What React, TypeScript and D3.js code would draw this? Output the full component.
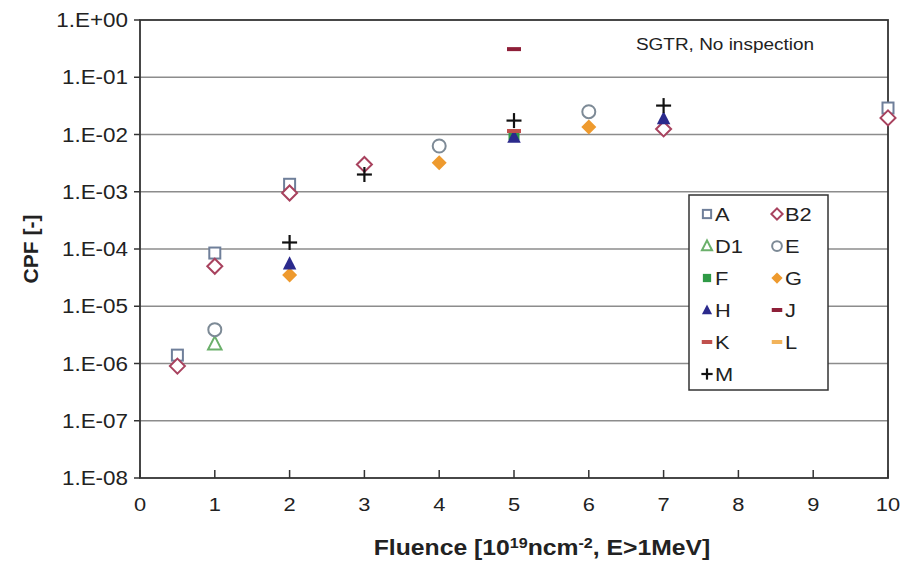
import React from "react";
import * as d3 from "d3";

// Fluence [1e19 n/cm2] and CPF values per series
const seriesA: [number, number][] = [[0.5, 1.4e-6], [1, 8.5e-5], [2, 1.35e-3], [10, 2.9e-2]];
const seriesB2: [number, number][] = [[0.5, 0.9e-6], [1, 5.0e-5], [2, 9.5e-4], [3, 3.0e-3], [7, 1.25e-2], [10, 1.95e-2]];
const seriesD1: [number, number][] = [[1, 2.2e-6]];
const seriesE: [number, number][] = [[1, 3.9e-6], [4, 6.3e-3], [6, 2.5e-2]];
const seriesF: [number, number][] = [[5, 1.0e-2]];
const seriesG: [number, number][] = [[2, 3.5e-5], [4, 3.2e-3], [6, 1.35e-2]];
const seriesH: [number, number][] = [[2, 5.5e-5], [5, 9.0e-3], [7, 1.9e-2]];
const seriesJ: [number, number][] = [[5, 3.1e-1]];
const seriesK: [number, number][] = [[5, 1.15e-2]];
const seriesL: [number, number][] = [];
const seriesM: [number, number][] = [[2, 1.3e-4], [3, 2.0e-3], [5, 1.75e-2], [7, 3.2e-2]];

const xTicks = [0, 1, 2, 3, 4, 5, 6, 7, 8, 9, 10];
const yTicks = [1, 1e-1, 1e-2, 1e-3, 1e-4, 1e-5, 1e-6, 1e-7, 1e-8];
const yTickLabels = ["1.E+00", "1.E-01", "1.E-02", "1.E-03", "1.E-04", "1.E-05", "1.E-06", "1.E-07", "1.E-08"];

type Shape = "square" | "diamond" | "triangle" | "circle" | "dash" | "plus";
interface Series { name: string; data: [number, number][]; shape: Shape; color: string; filled: boolean }

const series: Series[] = [
  { name: "A", data: seriesA, shape: "square", color: "#6f7f9a", filled: false },
  { name: "B2", data: seriesB2, shape: "diamond", color: "#a8425e", filled: false },
  { name: "D1", data: seriesD1, shape: "triangle", color: "#6bb06b", filled: false },
  { name: "E", data: seriesE, shape: "circle", color: "#7d8a96", filled: false },
  { name: "F", data: seriesF, shape: "square", color: "#2f9a46", filled: true },
  { name: "G", data: seriesG, shape: "diamond", color: "#ee9a2e", filled: true },
  { name: "H", data: seriesH, shape: "triangle", color: "#2b2a8c", filled: true },
  { name: "J", data: seriesJ, shape: "dash", color: "#8e1f38", filled: true },
  { name: "K", data: seriesK, shape: "dash", color: "#c0504d", filled: true },
  { name: "L", data: seriesL, shape: "dash", color: "#f2b35a", filled: true },
  { name: "M", data: seriesM, shape: "plus", color: "#111111", filled: true },
];

// legend layout: two columns, entries in reading order
const legendOrder = ["A", "B2", "D1", "E", "F", "G", "H", "J", "K", "L", "M"];

const W = 905;
const H = 563;
const margin = { left: 140, right: 17, top: 20, bottom: 85 };
const STRETCH = 1.15; // horizontal widening of the text glyphs

const x = d3.scaleLinear().domain([0, 10]).range([margin.left, W - margin.right]);
const y = d3.scaleLog().domain([1e-8, 1]).range([H - margin.bottom, margin.top]);

function Label({ x: tx, y: ty, anchor = "start", size, bold = false, dy, children, rotate = 0 }: {
  x: number; y: number; anchor?: "start" | "middle" | "end"; size: number; bold?: boolean; dy?: string; children: React.ReactNode; rotate?: number;
}) {
  return (
    <text
      transform={`translate(${tx},${ty}) rotate(${rotate}) scale(${rotate ? 1 : STRETCH},1)`}
      textAnchor={anchor}
      fontSize={size}
      fontWeight={bold ? "bold" : "normal"}
      dy={dy}
      fill="#222"
    >
      {children}
    </text>
  );
}

function Marker({ shape, color, filled, cx, cy, scale = 1 }: { shape: Shape; color: string; filled: boolean; cx: number; cy: number; scale?: number }) {
  const fill = filled ? color : "#ffffff";
  const sw = 2;
  if (shape === "square") {
    const s = 11 * scale;
    return <rect x={cx - s / 2} y={cy - s / 2} width={s} height={s} fill={fill} stroke={color} strokeWidth={filled ? 0 : sw} />;
  }
  if (shape === "diamond") {
    const r = 7.5 * scale;
    return <path d={`M${cx},${cy - r}L${cx + r},${cy}L${cx},${cy + r}L${cx - r},${cy}Z`} fill={fill} stroke={color} strokeWidth={filled ? 0 : sw} />;
  }
  if (shape === "triangle") {
    const r = 7.5 * scale;
    return <path d={`M${cx},${cy - r}L${cx + r * 0.9},${cy + r * 0.75}L${cx - r * 0.9},${cy + r * 0.75}Z`} fill={fill} stroke={color} strokeWidth={filled ? 0 : sw} />;
  }
  if (shape === "circle") {
    return <circle cx={cx} cy={cy} r={6.5 * scale} fill="#ffffff" stroke={color} strokeWidth={sw} />;
  }
  if (shape === "dash") {
    const w = 14 * scale;
    return <rect x={cx - w / 2} y={cy - 2} width={w} height={4} fill={color} />;
  }
  const r = 7.5 * scale;
  return (
    <g stroke={color} strokeWidth={2.2}>
      <line x1={cx - r} x2={cx + r} y1={cy} y2={cy} />
      <line x1={cx} x2={cx} y1={cy - r} y2={cy + r} />
    </g>
  );
}

export default function App() {
  const plotL = margin.left;
  const plotR = W - margin.right;
  const plotT = margin.top;
  const plotB = H - margin.bottom;
  const font = "'Liberation Sans', Arial, sans-serif";

  const legX = 689;
  const legY = 195;
  const legW = 139;
  const legH = 195;
  const rowH = 32;

  return (
    <svg width={W} height={H} style={{ position: "absolute", left: 0, top: 0, background: "#fff" }} fontFamily={font}>
      {/* horizontal grid */}
      {yTicks.slice(1, -1).map((t) => (
        <line key={t} x1={plotL} x2={plotR} y1={y(t)} y2={y(t)} stroke="#8c8c8c" strokeWidth={1.6} />
      ))}

      {/* frame */}
      <rect x={plotL} y={plotT} width={plotR - plotL} height={plotB - plotT} fill="none" stroke="#333" strokeWidth={1.8} />

      {/* y ticks and labels */}
      {yTicks.map((t, i) => (
        <g key={t}>
          <line x1={plotL - 6} x2={plotL} y1={y(t)} y2={y(t)} stroke="#333" strokeWidth={1.5} />
          <Label x={plotL - 12} y={y(t)} dy="0.36em" anchor="end" size={19.5}>{yTickLabels[i]}</Label>
        </g>
      ))}

      {/* x ticks and labels */}
      {xTicks.map((t) => (
        <g key={t}>
          <line x1={x(t)} x2={x(t)} y1={plotB - 8} y2={plotB} stroke="#333" strokeWidth={1.5} />
          <Label x={x(t)} y={plotB + 33} anchor="middle" size={19}>{t}</Label>
        </g>
      ))}

      {/* axis titles */}
      <Label x={38} y={(plotT + plotB) / 2} anchor="middle" size={21} bold rotate={-90}>CPF [-]</Label>
      <Label x={542} y={plotB + 77} anchor="middle" size={21.5} bold>
        Fluence [10<tspan dy={-7} fontSize={14}>19</tspan><tspan dy={7}>ncm</tspan><tspan dy={-7} fontSize={14}>-2</tspan><tspan dy={7}>, E&gt;1MeV]</tspan>
      </Label>

      <Label x={725} y={50} anchor="middle" size={16.5}>SGTR, No inspection</Label>

      {/* data */}
      {series.map((s) => (
        <g key={s.name}>
          {s.data.map(([fx, cpf], i) => (
            <Marker key={i} shape={s.shape} color={s.color} filled={s.filled} cx={x(fx)} cy={y(cpf)} />
          ))}
        </g>
      ))}

      {/* legend */}
      <rect x={legX} y={legY} width={legW} height={legH} fill="#fff" stroke="#333" strokeWidth={1.5} />
      {legendOrder.map((name, i) => {
        const s = series.find((d) => d.name === name)!;
        const col = i % 2;
        const row = Math.floor(i / 2);
        const mx = legX + 18 + col * 70;
        const my = legY + 19 + row * rowH;
        return (
          <g key={name}>
            <Marker shape={s.shape} color={s.color} filled={s.filled} cx={mx} cy={my} scale={0.75} />
            <Label x={mx + 8} y={my} dy="0.37em" size={19}>{name}</Label>
          </g>
        );
      })}
    </svg>
  );
}
